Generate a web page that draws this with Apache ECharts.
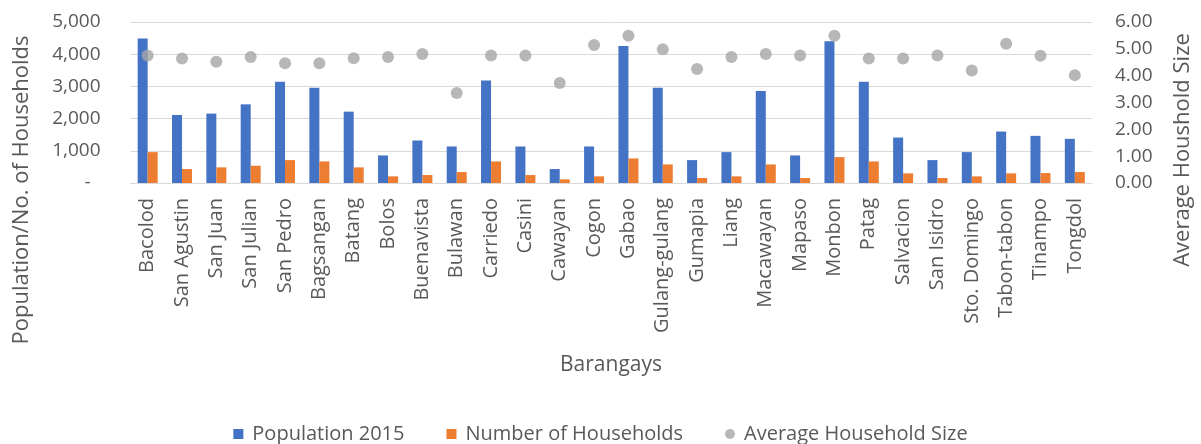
<!DOCTYPE html>
<html>
<head>
<meta charset="utf-8">
<script src="https://cdn.jsdelivr.net/npm/echarts@6/dist/echarts.min.js"></script>
<style>
html,body{margin:0;padding:0;background:#fff;}
#chart{width:1201px;height:444px;}
</style>
</head>
<body>
<div id="chart"></div>
<script>
var categories = ['Bacolod','San Agustin','San Juan','San Julian','San Pedro','Bagsangan','Batang','Bolos','Buenavista','Bulawan','Carriedo','Casini','Cawayan','Cogon','Gabao','Gulang-gulang','Gumapia','Liang','Macawayan','Mapaso','Monbon','Patag','Salvacion','San Isidro','Sto. Domingo','Tabon-tabon','Tinampo','Tongdol'];
var population2015 = [4485, 2113, 2155, 2443, 3144, 2959, 2216, 856, 1320, 1134, 3186, 1134, 433, 1134, 4258, 2959, 711, 959, 2856, 856, 4402, 3144, 1412, 711, 959, 1598, 1464, 1371];
var households = [959, 433, 485, 536, 711, 670, 485, 206, 247, 340, 670, 247, 113, 206, 763, 577, 155, 206, 577, 155, 804, 670, 299, 155, 206, 299, 309, 340];
var avgHouseholdSize = [4.75, 4.64, 4.52, 4.70, 4.46, 4.46, 4.65, 4.70, 4.81, 3.35, 4.75, 4.75, 3.73, 5.14, 5.49, 4.98, 4.25, 4.70, 4.81, 4.75, 5.49, 4.64, 4.64, 4.75, 4.19, 5.19, 4.74, 4.02];
var seriesNames = ['Population 2015', 'Number of Households', 'Average Household Size'];
var leftAxisTitle = 'Population/No. of Households';
var rightAxisTitle = 'Average Houshold Size';
var xAxisTitle = 'Barangays';

var FONT = '"Open Sans", "Noto Sans", sans-serif';
var TXT = '#595959';

var chart = echarts.init(document.getElementById('chart'), null, {renderer: 'canvas'});
chart.setOption({
  animation: false,
  backgroundColor: '#ffffff',
  textStyle: {fontFamily: FONT},
  grid: {left: 130.5, right: 109, top: 22, bottom: 261, containLabel: false},
  legend: {
    data: [
      {name: seriesNames[0], icon: 'rect'},
      {name: seriesNames[1], icon: 'rect'},
      {name: seriesNames[2], icon: 'circle'}
    ],
    left: 'center',
    top: 419,
    itemWidth: 10,
    itemHeight: 10,
    itemGap: 42,
    textStyle: {fontFamily: FONT, fontSize: 20, color: TXT, padding: [0, 0, 0, 4]}
  },
  xAxis: {
    type: 'category',
    data: categories,
    axisTick: {show: false},
    axisLine: {show: true, lineStyle: {color: '#D9D9D9', width: 1}},
    axisLabel: {rotate: 90, margin: 15, interval: 0, fontFamily: FONT, fontSize: 20, color: TXT}
  },
  yAxis: [
    {
      type: 'value', min: 0, max: 5000, interval: 1000,
      axisLine: {show: false}, axisTick: {show: false},
      splitLine: {show: true, lineStyle: {color: '#D9D9D9', width: 1}},
      axisLabel: {
        margin: 30, fontFamily: FONT, fontSize: 19, color: TXT,
        formatter: function (v) { return v === 0 ? '-  ' : v.toLocaleString('en-US'); }
      }
    },
    {
      type: 'value', min: 0, max: 6, interval: 1, position: 'right',
      axisLine: {show: false}, axisTick: {show: false},
      splitLine: {show: false},
      axisLabel: {
        margin: 23, fontFamily: FONT, fontSize: 19, color: TXT,
        formatter: function (v) { return v.toFixed(2); }
      }
    }
  ],
  series: [
    {
      name: seriesNames[0], type: 'bar', yAxisIndex: 0, data: population2015,
      barWidth: 10, barGap: '0%', itemStyle: {color: '#4472C4'}
    },
    {
      name: seriesNames[1], type: 'bar', yAxisIndex: 0, data: households,
      barWidth: 10, barGap: '0%', itemStyle: {color: '#ED7D31'}
    },
    {
      name: seriesNames[2], type: 'scatter', yAxisIndex: 1, data: avgHouseholdSize,
      symbol: 'circle', symbolSize: 12, itemStyle: {color: '#A5A5A5'}, z: 5
    }
  ],
  graphic: [
    {
      type: 'text', x: 22, y: 190, rotation: Math.PI / 2,
      style: {text: leftAxisTitle, fontFamily: FONT, fontSize: 22, fill: TXT, align: 'center', verticalAlign: 'middle'}
    },
    {
      type: 'text', x: 1183, y: 150, rotation: Math.PI / 2,
      style: {text: rightAxisTitle, fontFamily: FONT, fontSize: 22, fill: TXT, align: 'center', verticalAlign: 'middle'}
    },
    {
      type: 'text', x: 611, y: 365,
      style: {text: xAxisTitle, fontFamily: FONT, fontSize: 21, fill: TXT, align: 'center', verticalAlign: 'middle'}
    }
  ]
});
</script>
</body>
</html>
